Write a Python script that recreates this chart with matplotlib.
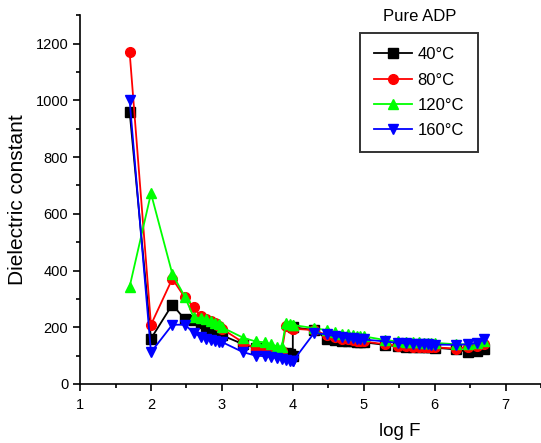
import numpy as np
import matplotlib
matplotlib.use('Agg')
import matplotlib.pyplot as plt
from matplotlib.ticker import MultipleLocator

plt.rcParams['font.family'] = ['Liberation Sans', 'DejaVu Sans']

# log of frequency (10 kHz measured twice)
logF = [1.699, 2.0, 2.301, 2.477, 2.602, 2.699, 2.778, 2.845, 2.903, 2.954, 3.0,
        3.301, 3.477, 3.602, 3.699, 3.778, 3.845, 3.903, 3.954, 4.0, 4.0,
        4.301, 4.477, 4.602, 4.699, 4.778, 4.845, 4.903, 4.954, 5.0,
        5.301, 5.477, 5.602, 5.699, 5.778, 5.845, 5.903, 5.954, 6.0,
        6.301, 6.477, 6.602, 6.699]

eps_40 = [960, 160, 280, 228, 225, 215, 205, 195, 185, 178, 172,
          140, 128, 122, 118, 112, 110, 108, 105, 100, 200,
          190, 160, 155, 153, 151, 150, 149, 148, 147,
          138, 133, 132, 131, 130, 130, 129, 129, 128,
          122, 113, 118, 125]
eps_80 = [1170, 209, 371, 305, 272, 238, 230, 222, 215, 205, 195,
          146, 125, 120, 118, 115, 115, 205, 200, 195, 195,
          190, 172, 165, 160, 157, 155, 153, 151, 150,
          140, 135, 133, 132, 131, 130, 130, 129, 129,
          125, 130, 135, 140]
eps_120 = [343, 672, 388, 308, 235, 232, 228, 222, 215, 210, 200,
           163, 150, 147, 140, 132, 132, 215, 212, 208, 208,
           197, 190, 183, 178, 175, 172, 170, 169, 168,
           155, 150, 149, 148, 147, 146, 146, 145, 145,
           140, 140, 143, 150]
eps_160 = [1000, 112, 209, 209, 181, 167, 160, 155, 150, 148, 148,
           112, 100, 98, 95, 92, 88, 85, 82, 80, 80,
           180, 175, 168, 165, 163, 161, 160, 158, 157,
           150, 145, 143, 142, 141, 140, 140, 139, 139,
           138, 140, 145, 158]

series = [
    (eps_40, '40°C', 'black', 's', 6.5),
    (eps_80, '80°C', 'red', 'o', 7),
    (eps_120, '120°C', '#00ff00', '^', 7.5),
    (eps_160, '160°C', 'blue', 'v', 7.5),
]

fig = plt.figure(figsize=(5.41, 4.43), dpi=100)
ax = fig.add_axes([0.148, 0.1332, 0.852, 0.8323])

for vals, lab, col, mk, ms in series:
    ax.plot(logF, vals, color=col, marker=mk, markersize=ms, linewidth=1.3,
            markeredgecolor=col, label=lab)

ax.set_xlim(1, 7.5)
ax.set_ylim(0, 1300)
ax.xaxis.set_major_locator(MultipleLocator(1))
ax.xaxis.set_minor_locator(MultipleLocator(0.5))
ax.yaxis.set_major_locator(MultipleLocator(200))
ax.yaxis.set_minor_locator(MultipleLocator(100))
ax.spines['top'].set_visible(False)
ax.spines['right'].set_visible(False)
for s in ['left', 'bottom']:
    ax.spines[s].set_linewidth(1.2)
ax.tick_params(which='major', direction='out', length=5, width=1.2, labelsize=10.5)
ax.tick_params(axis='x', which='major', pad=5)
ax.tick_params(which='minor', direction='out', length=3, width=1.2)

ax.set_xlabel('log F', fontsize=13.5)
ax.xaxis.set_label_coords(0.693, -0.106)
ax.set_ylabel('Dielectric constant', fontsize=15, labelpad=6)

leg = ax.legend(loc='upper left', bbox_to_anchor=(0.665, 0.9255),
                bbox_transform=fig.transFigure, fontsize=12, frameon=True,
                fancybox=False, edgecolor='black', handlelength=2.3,
                labelspacing=0.62, borderpad=0.85, borderaxespad=0,
                handletextpad=0.3)
leg.get_frame().set_linewidth(1.4)
fig.text(0.776, 0.962, 'Pure ADP', fontsize=12, ha='center', va='center')

fig.savefig('out.png', dpi=100)
